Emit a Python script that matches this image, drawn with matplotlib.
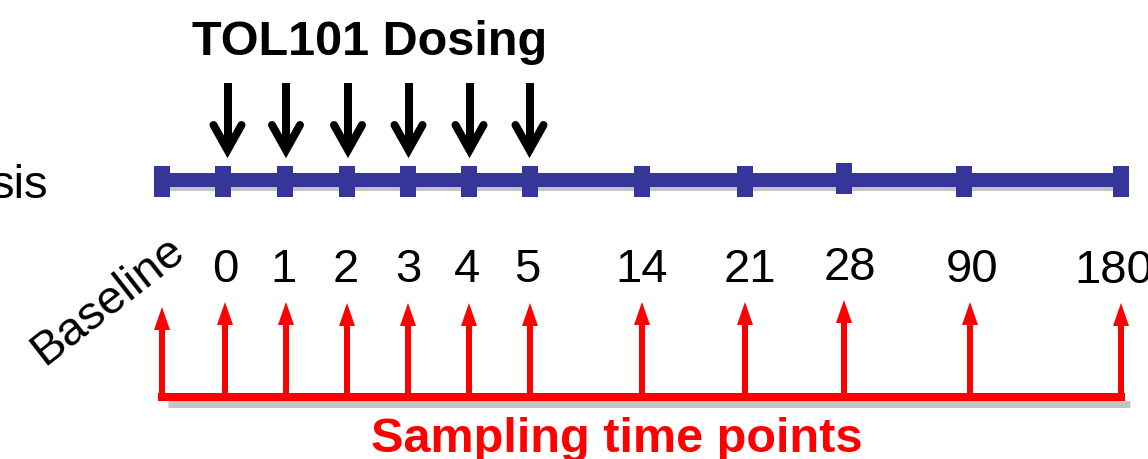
import matplotlib
matplotlib.use("Agg")
import matplotlib.pyplot as plt
from matplotlib.patches import Rectangle, Polygon

# ---- data ----
timepoint_labels = ["Baseline", "0", "1", "2", "3", "4", "5", "14", "21", "28", "90", "180"]
dosing_days = ["0", "1", "2", "3", "4", "5"]
title_text = "TOL101 Dosing"
bottom_text = "Sampling time points"
left_text = "sis"

# ---- layout (pixel coordinates) ----
W, H = 1148, 459
tick_x = [162, 223, 285, 347, 408, 469, 530, 642, 745, 844, 964, 1121]
label_x = [None, 225, 283, 346, 408, 467, 527, 642, 750, 850, 972, 1114]
label_y = [None, 282, 282, 282, 282, 282, 282, 282, 282, 280, 282, 283]
red_x = [162, 225, 286, 347, 408, 469, 530, 642, 745, 844, 970, 1121]
red_tip = [307, 302, 302, 303, 303, 303, 303, 302, 302, 300, 302, 303]
dose_x = [227.5, 286, 348, 408.5, 469.5, 529.5]

BLUE = "#36369A"
RED = "#FF0000"
SHADOW = "#C4C4C4"
FONT = ["Liberation Sans", "DejaVu Sans"]

px = 72 / 100.0  # pixel -> point


fig = plt.figure(figsize=(W / 100, H / 100), dpi=100)
ax = fig.add_axes([0, 0, 1, 1])
ax.set_xlim(0, W)
ax.set_ylim(H, 0)
ax.axis("off")

# ---- blue timeline ----
line_y = 180
ax.plot([tick_x[0], tick_x[-1] + 3], [line_y + 8, line_y + 8], color=SHADOW,
        lw=6 * px, solid_capstyle="butt", zorder=1)
ax.plot([tick_x[0], tick_x[-1]], [line_y, line_y], color=BLUE,
        lw=14 * px, solid_capstyle="butt", zorder=2)
for i, x in enumerate(tick_x):
    top = 163 if timepoint_labels[i] == "28" else 166
    ax.add_patch(Rectangle((x - 8, top), 16, 31, color=BLUE, lw=0, zorder=3))

# ---- time labels ----
for i, lab in enumerate(timepoint_labels):
    if lab == "Baseline":
        ax.text(108, 301, lab, rotation=38, rotation_mode="anchor",
                ha="center", va="center", fontsize=34, family=FONT, color="black")
    else:
        ax.text(label_x[i], label_y[i], lab, ha="center", va="baseline",
                fontsize=34, family=FONT, color="black")

# ---- dosing arrows ----
for d, x in zip(dosing_days, dose_x):
    ax.plot([x, x], [83, 148], color="black", lw=8 * px, solid_capstyle="butt", zorder=4)
    ax.plot([x - 14, x, x + 14], [125, 150, 125], color="black", lw=8 * px,
            solid_joinstyle="miter", solid_capstyle="round", zorder=4)

ax.text(370, 55, title_text, ha="center", va="baseline", fontsize=35,
        fontweight="bold", family=FONT, color="black")

# ---- left clipped label ----
ax.text(48, 198, left_text, ha="right", va="baseline", fontsize=34,
        family=FONT, color="black")

# ---- red sampling bracket ----
br_y = 397
ax.plot([red_x[0] + 6, red_x[-1] + 9], [br_y + 7, br_y + 7], color=SHADOW,
        lw=7 * px, solid_capstyle="butt", zorder=1)
ax.plot([red_x[0] - 4, red_x[-1] + 4], [br_y, br_y], color=RED,
        lw=8 * px, solid_capstyle="butt", zorder=2)
for x, tip in zip(red_x, red_tip):
    base = tip + 23
    ax.plot([x, x], [br_y, base], color=RED, lw=6 * px, solid_capstyle="butt", zorder=2)
    ax.add_patch(Polygon([[x - 8, base], [x, tip], [x + 8, base]], closed=True,
                         color=RED, lw=0, zorder=2))

ax.text(617, 452, bottom_text, ha="center", va="baseline", fontsize=35,
        fontweight="bold", family=FONT, color=RED)

fig.savefig("out.png", dpi=100)
